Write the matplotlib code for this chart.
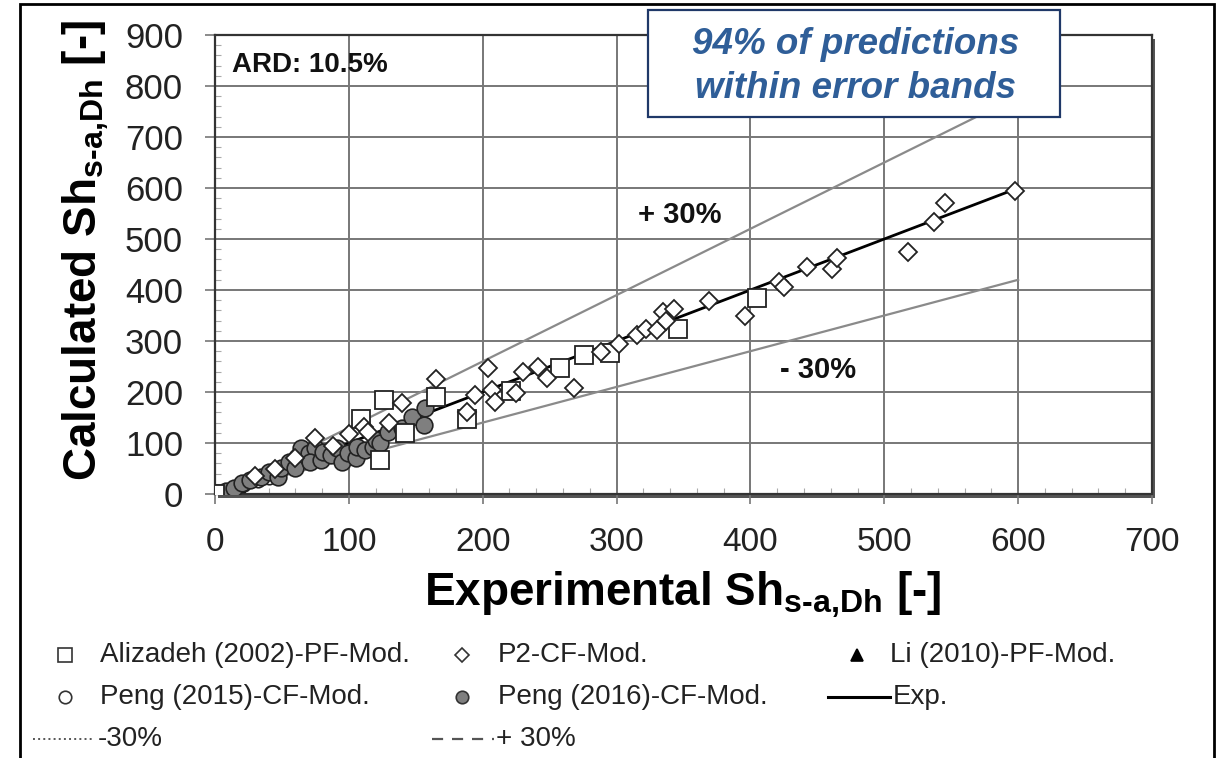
import matplotlib
matplotlib.use("Agg")
import matplotlib.pyplot as plt
from matplotlib.lines import Line2D
from matplotlib.patches import Rectangle
from matplotlib.ticker import MultipleLocator

plt.rcParams['font.family'] = ['Liberation Sans', 'DejaVu Sans']
plt.rcParams['mathtext.fontset'] = 'custom'
plt.rcParams['mathtext.rm'] = 'Liberation Sans:bold'
plt.rcParams['mathtext.bf'] = 'Liberation Sans:bold'
plt.rcParams['mathtext.it'] = 'Liberation Sans:bold'

# ---- data ----
alizadeh_x = [0, 109, 123, 126, 142, 165, 188, 221, 258, 276, 295, 346, 405]
alizadeh_y = [0, 148, 67, 184, 120, 191, 147, 201, 247, 272, 276, 323, 384]

p2_x = [30, 45, 60, 75, 88, 100, 111, 114, 130, 140, 165, 188, 194, 204, 207, 209,
        225, 230, 241, 248, 268, 288, 302, 315, 322, 330, 335, 337, 343, 369, 396,
        421, 425, 442, 461, 465, 518, 537, 545, 598]
p2_y = [35, 50, 70, 110, 95, 118, 131, 122, 140, 179, 225, 161, 194, 247, 204, 181,
        198, 240, 249, 228, 208, 278, 294, 312, 323, 322, 357, 340, 362, 378, 349,
        416, 406, 445, 441, 463, 475, 533, 571, 595]

li_x = [10, 18]
li_y = [8, 15]

peng2015_x = [5, 12, 22, 32, 40]
peng2015_y = [4, 10, 18, 25, 32]

peng2016_x = [8, 14, 20, 26, 34, 40, 47, 49, 55, 61, 60, 64, 70, 75, 71, 79, 81, 87,
              91, 95, 99, 105, 106, 112, 118, 120, 123, 129, 140, 147, 156, 157]
peng2016_y = [6, 12, 21, 27, 33, 43, 33, 51, 63, 73, 51, 90, 80, 90, 63, 67, 82, 76,
              90, 63, 80, 71, 92, 86, 92, 106, 100, 122, 130, 151, 135, 169]

exp_x = [0, 600]
band_x = [0, 600]
plus_factor = 1.3
minus_factor = 0.7

x_ticks = [0, 100, 200, 300, 400, 500, 600, 700]
y_ticks = [0, 100, 200, 300, 400, 500, 600, 700, 800, 900]

W, H = 1217, 758
fig = plt.figure(figsize=(W / 100, H / 100), dpi=100)
fig.patch.set_facecolor('white')

def fx(px):
    return px / W

def fy(py):
    return 1 - py / H

L, R, T, B = 215, 1152, 35, 494
ax = fig.add_axes([fx(L), fy(B), fx(R) - fx(L), fy(T) - fy(B)])

# shadow behind plot frame
fig.add_artist(Rectangle((fx(L + 3), fy(B + 4)), fx(R) - fx(L), fy(T) - fy(B),
                         transform=fig.transFigure, facecolor='#555555',
                         edgecolor='none', zorder=0))
ax.set_zorder(1)

ax.set_xlim(0, 700)
ax.set_ylim(0, 900)
ax.set_xticks(x_ticks)
ax.set_yticks(y_ticks)
ax.xaxis.set_minor_locator(MultipleLocator(20))
ax.yaxis.set_minor_locator(MultipleLocator(20))
ax.grid(True, which='major', color='#777777', linewidth=1.4, zorder=0)
ax.set_axisbelow(True)
ax.tick_params(which='major', direction='out', length=7, width=1.2, color='#777777',
               labelcolor='#222222')
ax.tick_params(axis='x', which='major', labelsize=24, pad=17)
ax.tick_params(axis='y', which='major', labelsize=25, pad=16)
ax.tick_params(which='minor', direction='in', length=4, width=0.8, color='#aaaaaa')
for s in ax.spines.values():
    s.set_color('#333333')
    s.set_linewidth(1.6)

# lines
ax.plot(band_x, [v * plus_factor for v in band_x], color='#8a8a8a', lw=1.6, zorder=2)
ax.plot(band_x, [v * minus_factor for v in band_x], color='#8a8a8a', lw=1.6, zorder=2)
ax.plot(exp_x, exp_x, color='black', lw=2.0, zorder=2)

# scatter
ax.plot(li_x, li_y, '^', ms=8, mfc='black', mec='black', ls='none', zorder=3)
ax.plot(peng2015_x, peng2015_y, 'o', ms=9, mfc='white', mec='#222222', mew=1.2, ls='none', zorder=3)
ax.plot(peng2016_x, peng2016_y, 'o', ms=12, mfc='#7f7f7f', mec='#222222', mew=1.2, ls='none', zorder=4)
ax.plot(alizadeh_x, alizadeh_y, 's', ms=13, mfc='white', mec='#222222', mew=1.3, ls='none', zorder=5)
ax.plot(p2_x, p2_y, 'D', ms=9, mfc='white', mec='#222222', mew=1.3, ls='none', zorder=6)

# annotations
ax.text((232 - L) / (R - L), (B - 65) / (B - T), 'ARD: 10.5%', transform=ax.transAxes,
        fontsize=20, fontweight='bold', ha='left', va='center', color='#111111', zorder=7)
ax.text((680 - L) / (R - L), (B - 215) / (B - T), '+ 30%', transform=ax.transAxes,
        fontsize=21, fontweight='bold', ha='center', va='center', color='#111111', zorder=7)
ax.text((818 - L) / (R - L), (B - 370) / (B - T), '- 30%', transform=ax.transAxes,
        fontsize=21, fontweight='bold', ha='center', va='center', color='#111111', zorder=7)

# axis labels
fig.text(fx(683), fy(605), r'Experimental Sh$_{\mathrm{s\text{-}a{,}Dh}}$ [-]', fontsize=33,
         fontweight='bold', ha='center', va='baseline', color='black')
fig.text(fx(97), fy(250), r'Calculated Sh$_{\mathrm{s\text{-}a{,}Dh}}$ [-]', fontsize=33,
         fontweight='bold', ha='center', va='baseline', rotation=90,
         rotation_mode='anchor', color='black')

# highlight box
fig.add_artist(Rectangle((fx(648), fy(117)), fx(1060) - fx(648), fy(10) - fy(117),
                         transform=fig.transFigure, facecolor='white',
                         edgecolor='#1f3868', linewidth=1.6, zorder=10))
fig.text(fx(856), fy(45), '94% of predictions', fontsize=26.5, fontweight='bold',
         fontstyle='italic', color='#2f5e98', ha='center', va='center', zorder=11)
fig.text(fx(856), fy(88), 'within error bands', fontsize=26.5, fontweight='bold',
         fontstyle='italic', color='#2f5e98', ha='center', va='center', zorder=11)

# outer frame
fig.add_artist(Rectangle((fx(20), fy(770)), fx(1214) - fx(20), fy(4) - fy(770),
                         transform=fig.transFigure, facecolor='none',
                         edgecolor='black', linewidth=2.0, zorder=12))

# legend (manual)
leg_fs = 20
def leg_marker(px, py, marker, ms, mfc, mec='#333333'):
    fig.add_artist(Line2D([fx(px)], [fy(py)], marker=marker, ms=ms, mfc=mfc, mec=mec,
                          mew=1.2, ls='none', transform=fig.transFigure))

def leg_line(px0, px1, py, ls, color='#333333', lw=1.5, dashes=None):
    ln = Line2D([fx(px0), fx(px1)], [fy(py), fy(py)], ls=ls, color=color, lw=lw,
                transform=fig.transFigure)
    if dashes is not None:
        ln.set_dashes(dashes)
    fig.add_artist(ln)

def leg_text(px, py, s):
    fig.text(fx(px), fy(py), s, fontsize=leg_fs, ha='left', va='center', color='#222222')

r1, r2, r3 = 655, 697, 739
leg_marker(65, r1, 's', 10, 'white')
leg_text(100, r1, 'Alizadeh (2002)-PF-Mod.')
leg_marker(462, r1, 'D', 7, 'white')
leg_text(498, r1, 'P2-CF-Mod.')
leg_marker(857, r1, '^', 9, 'black', 'black')
leg_text(890, r1, 'Li (2010)-PF-Mod.')
leg_marker(65, r2, 'o', 9, 'white')
leg_text(100, r2, 'Peng (2015)-CF-Mod.')
leg_marker(462, r2, 'o', 9, '#7f7f7f')
leg_text(498, r2, 'Peng (2016)-CF-Mod.')
leg_line(828, 890, r2, '-', color='black', lw=2.2)
leg_text(893, r2, 'Exp.')
leg_line(33, 93, r3, ':', color='#555555', lw=1.4)
leg_text(98, r3, '-30%')
leg_line(432, 494, r3, '--', color='#555555', lw=1.6, dashes=(5, 4))
leg_text(496, r3, '+ 30%')

fig.savefig('out.png', dpi=100)
